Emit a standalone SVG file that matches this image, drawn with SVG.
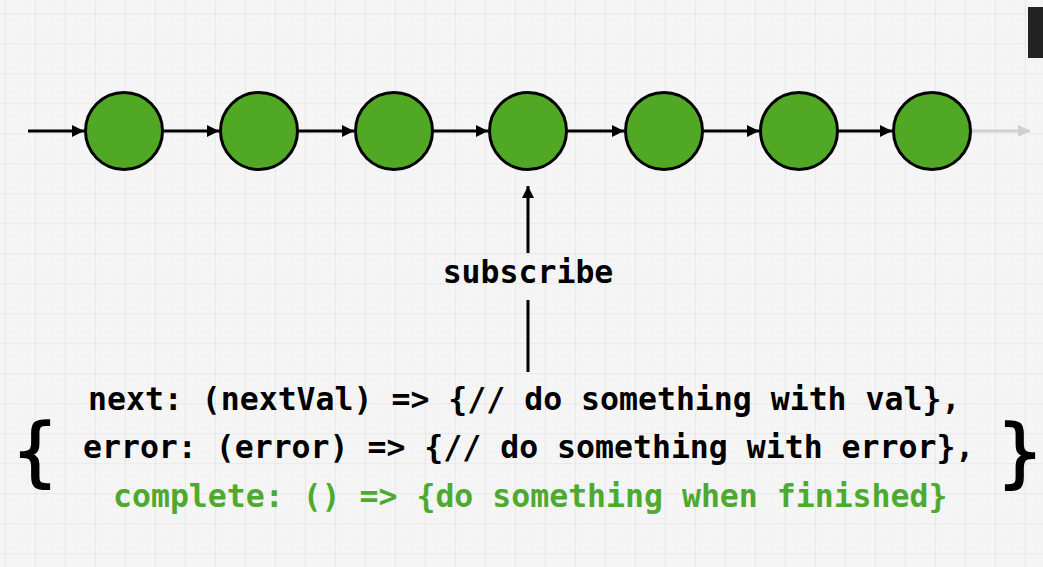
<svg xmlns="http://www.w3.org/2000/svg" width="1043" height="567" viewBox="0 0 1043 567">
<defs>
<pattern id="minor" x="5" y="13" width="6" height="6" patternUnits="userSpaceOnUse">
<path d="M0 0H6M0 0V6" stroke="#ececec" stroke-width="0.6" fill="none"/>
</pattern>
<pattern id="grid" x="5" y="13" width="30" height="30" patternUnits="userSpaceOnUse">
<rect width="30" height="30" fill="url(#minor)"/>
<path d="M0 0H30M0 0V30" stroke="#e1e1e1" stroke-width="1.2" fill="none"/>
</pattern>
<marker id="ah" viewBox="0 0 10 10" refX="10" refY="5" markerWidth="4" markerHeight="4" orient="auto" markerUnits="strokeWidth">
<path d="M0 0L10 5L0 10z" fill="#000"/>
</marker>
<marker id="ahg" viewBox="0 0 10 10" refX="10" refY="5" markerWidth="4" markerHeight="4" orient="auto" markerUnits="strokeWidth">
<path d="M0 0L10 5L0 10z" fill="#cfcfcf"/>
</marker>
</defs>
<style>
.node{fill:#50a825;stroke:#000;stroke-width:3}
.conn{stroke:#000;stroke-width:3;fill:none;marker-end:url(#ah)}
.t{font-family:"DejaVu Sans Mono",monospace;font-size:31.5px;font-weight:bold;fill:#000}
.g{fill:#4caa2f}
.brace{font-family:"DejaVu Sans Mono",monospace;font-size:74px;font-weight:normal;fill:#000;stroke:#000;stroke-width:1.6}
</style>
<rect width="1043" height="567" fill="#f5f5f5"/>
<rect width="1043" height="567" fill="url(#grid)"/>
<rect x="1028" y="7" width="15" height="51" fill="#222"/>
<g id="connectors">
<line class="conn" x1="28" y1="131" x2="84" y2="131"/>
<line class="conn" x1="163" y1="131" x2="219" y2="131"/>
<line class="conn" x1="298" y1="131" x2="354" y2="131"/>
<line class="conn" x1="433" y1="131" x2="488" y2="131"/>
<line class="conn" x1="567" y1="131" x2="624" y2="131"/>
<line class="conn" x1="703" y1="131" x2="759" y2="131"/>
<line class="conn" x1="838" y1="131" x2="892" y2="131"/>
<line x1="971" y1="131" x2="1030" y2="131" stroke="#cfcfcf" stroke-width="3" marker-end="url(#ahg)"/>
<line x1="528" y1="372" x2="528" y2="300" stroke="#000" stroke-width="3"/>
<line class="conn" x1="528" y1="253" x2="528" y2="186"/>
</g>
<g id="n1"><circle class="node" cx="124" cy="131" r="38.5"/></g>
<g id="n2"><circle class="node" cx="259" cy="131" r="38.5"/></g>
<g id="n3"><circle class="node" cx="394" cy="131" r="38.5"/></g>
<g id="n4"><circle class="node" cx="528" cy="131" r="38.5"/></g>
<g id="n5"><circle class="node" cx="664" cy="131" r="38.5"/></g>
<g id="n6"><circle class="node" cx="799" cy="131" r="38.5"/></g>
<g id="n7"><circle class="node" cx="932" cy="131" r="38.5"/></g>
<g id="subscribe"><text class="t" x="528" y="283" text-anchor="middle">subscribe</text></g>
<g id="observer">
<text class="brace" x="35" y="477" text-anchor="middle">{</text>
<text class="brace" x="1020" y="478" text-anchor="middle">}</text>
<text class="t" x="88" y="410">next: (nextVal) =&gt; {// do something with val},</text>
<text class="t" x="83" y="458">error: (error) =&gt; {// do something with error},</text>
<text class="t g" x="113" y="507">complete: () =&gt; {do something when finished}</text>
</g>
</svg>
